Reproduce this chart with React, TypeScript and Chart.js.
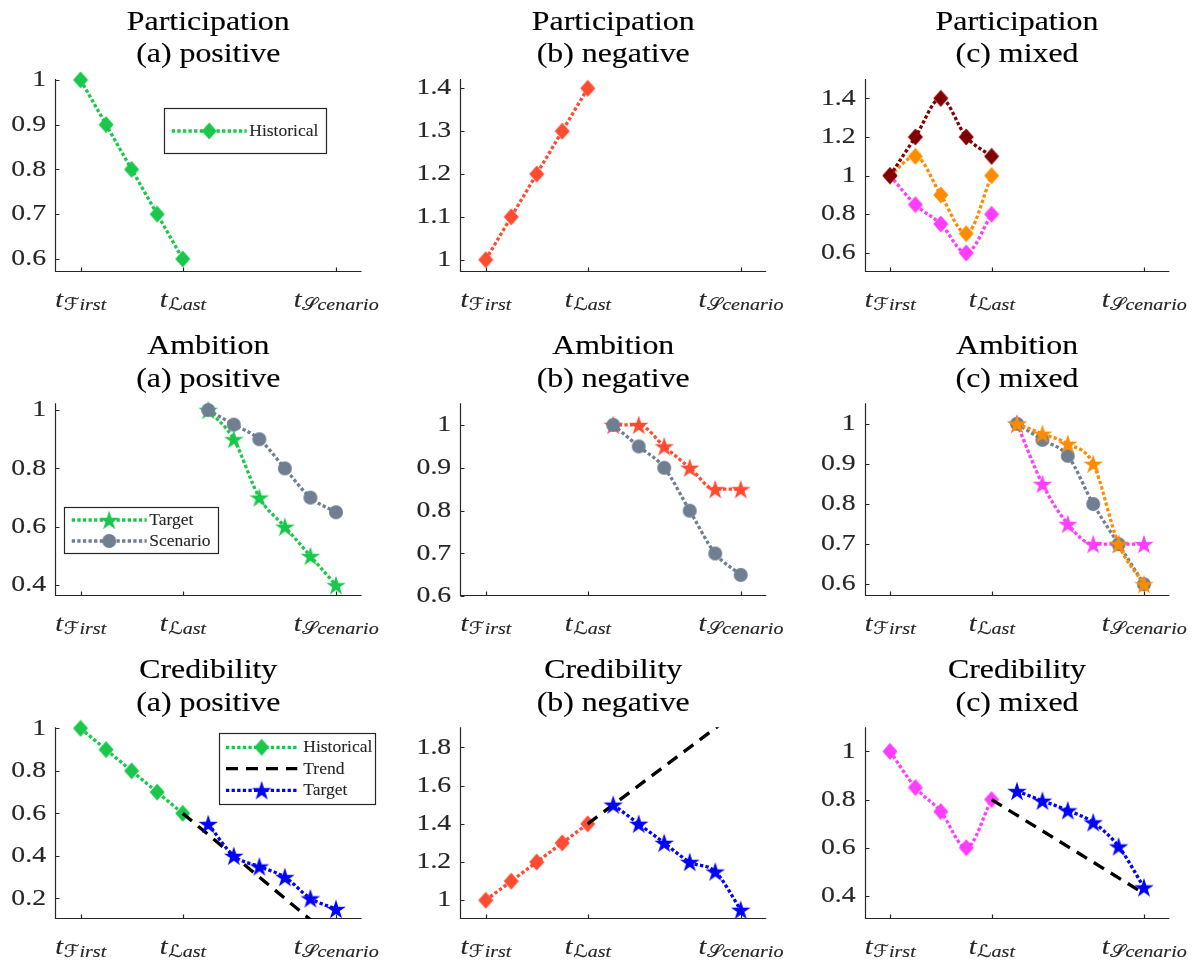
import React, { useEffect, useRef } from 'react';
import { Chart, registerables } from 'chart.js';

Chart.register(...registerables);

// ---------------- data ----------------
const xHistorical = [0, 1, 2, 3, 4];
const xFuture = [5, 6, 7, 8, 9, 10];
const xTrend = [4, 10];
const xTickValues = [0, 4, 10];
const xTickScript = ['ℱ', 'ℒ', '𝒮'];
const xTickRest = ['irst', 'ast', 'cenario'];

const rowTitles = ['Participation', 'Ambition', 'Credibility'];
const colSubtitles = ['(a) positive', '(b) negative', '(c) mixed'];

// Participation
const partPosHistorical = [1, 0.9, 0.8, 0.7, 0.6];
const partNegHistorical = [1, 1.1, 1.2, 1.3, 1.4];
const partMixDarkRed = [1, 1.2, 1.4, 1.2, 1.1];
const partMixOrange = [1, 1.1, 0.9, 0.7, 1.0];
const partMixMagenta = [1, 0.85, 0.75, 0.6, 0.8];

// Ambition
const ambPosTarget = [1, 0.9, 0.7, 0.6, 0.5, 0.4];
const ambPosScenario = [1, 0.95, 0.9, 0.8, 0.7, 0.65];
const ambNegTarget = [1, 1, 0.95, 0.9, 0.85, 0.85];
const ambNegScenario = [1, 0.95, 0.9, 0.8, 0.7, 0.65];
const ambMixOrange = [1, 0.975, 0.95, 0.9, 0.7, 0.6];
const ambMixScenario = [1, 0.96, 0.92, 0.8, 0.7, 0.6];
const ambMixMagenta = [1, 0.85, 0.75, 0.7, 0.7, 0.7];

// Credibility
const credPosHistorical = [1, 0.9, 0.8, 0.7, 0.6];
const credPosTrend = [0.6, 0.0];
const credPosTarget = [0.55, 0.4, 0.35, 0.3, 0.2, 0.15];
const credNegHistorical = [1, 1.1, 1.2, 1.3, 1.4];
const credNegTrend = [1.4, 2.0];
const credNegTarget = [1.5, 1.4, 1.3, 1.2, 1.15, 0.95];
const credMixHistorical = [1, 0.85, 0.75, 0.6, 0.8];
const credMixTrend = [0.8, 0.41];
const credMixTarget = [0.835, 0.795, 0.755, 0.705, 0.605, 0.435];

// y tick labels
const yTicksPartPos = [0.6, 0.7, 0.8, 0.9, 1];
const yTicksPartNeg = [1, 1.1, 1.2, 1.3, 1.4];
const yTicksPartMix = [0.6, 0.8, 1, 1.2, 1.4];
const yTicksAmbPos = [0.4, 0.6, 0.8, 1];
const yTicksAmbNeg = [0.6, 0.7, 0.8, 0.9, 1];
const yTicksAmbMix = [0.6, 0.7, 0.8, 0.9, 1];
const yTicksCredPos = [0.2, 0.4, 0.6, 0.8, 1];
const yTicksCredNeg = [1, 1.2, 1.4, 1.6, 1.8];
const yTicksCredMix = [0.4, 0.6, 0.8, 1];

// y limits
const yRangePartPos = [0.57, 1.002];
const yRangePartNeg = [0.9706, 1.4217];
const yRangePartMix = [0.5, 1.5];
const yRangeAmbPos = [0.362, 1.023];
const yRangeAmbNeg = [0.6, 1.0506];
const yRangeAmbMix = [0.57, 1.051];
const yRangeCredPos = [0.103, 1.005];
const yRangeCredNeg = [0.902, 1.905];
const yRangeCredMix = [0.304, 1.1];

// ---------------- style ----------------
const C = {
  green: 'rgb(25,200,75)',
  red: 'rgb(255,75,50)',
  darkred: '#800000',
  orange: '#ff8c00',
  magenta: 'rgb(255,60,255)',
  grey: 'rgb(111,127,145)',
  blue: '#0000ff',
  black: '#000000',
};
const AX = '#262626';
const SERIF = '"Liberation Serif", "Times New Roman", serif';
const SCRIPTF = '"Liberation Serif", "DejaVu Serif", "DejaVu Sans", serif';
const SX = 1.18;
const LW = 3.3;
const DOT = [3.3, 2.3];
const DASH = [12, 8];
const TEXT_BOLD = 0.15;

type Marker = 'diamond' | 'star' | 'circle' | null;
type Series = { xs: number[]; ys: number[]; color: string; marker: Marker; trend?: boolean; label?: string };
type Legend = { box: [number, number, number, number]; line: [number, number]; textX: number; rows: { y: number; s: number }[] };
type PanelDef = { row: number; col: number; yRange: number[]; yTicks: number[]; series: Series[]; legend?: Legend };

const cellX = [0, 400, 800];
const cellW = [400, 400, 394];
const cellY = [0, 320, 640];
const cellH = 320;
const axesX = [[55, 361.5], [460.2, 766.2], [864.6, 1169.4]];
const axesY = [[79, 272.3], [403.3, 596.3], [727.3, 919]];

const hist = (ys: number[], color: string, label?: string): Series => ({ xs: xHistorical, ys, color, marker: 'diamond', label });
const fut = (ys: number[], color: string, marker: Marker, label?: string): Series => ({ xs: xFuture, ys, color, marker, label });
const trend = (ys: number[]): Series => ({ xs: xTrend, ys, color: C.black, marker: null, trend: true, label: 'Trend' });

const panels: PanelDef[] = [
  {
    row: 0, col: 0, yRange: yRangePartPos, yTicks: yTicksPartPos,
    series: [hist(partPosHistorical, C.green, 'Historical')],
    legend: { box: [164.3, 108.3, 162.4, 45], line: [171.7, 246.7], textX: 249.3, rows: [{ y: 131, s: 0 }] },
  },
  { row: 0, col: 1, yRange: yRangePartNeg, yTicks: yTicksPartNeg, series: [hist(partNegHistorical, C.red)] },
  {
    row: 0, col: 2, yRange: yRangePartMix, yTicks: yTicksPartMix,
    series: [hist(partMixMagenta, C.magenta), hist(partMixOrange, C.orange), hist(partMixDarkRed, C.darkred)],
  },
  {
    row: 1, col: 0, yRange: yRangeAmbPos, yTicks: yTicksAmbPos,
    series: [fut(ambPosTarget, C.green, 'star', 'Target'), fut(ambPosScenario, C.grey, 'circle', 'Scenario')],
    legend: { box: [64.3, 187.3, 154, 46], line: [71.7, 146.7], textX: 149.3, rows: [{ y: 200, s: 0 }, { y: 221, s: 1 }] },
  },
  {
    row: 1, col: 1, yRange: yRangeAmbNeg, yTicks: yTicksAmbNeg,
    series: [fut(ambNegTarget, C.red, 'star'), fut(ambNegScenario, C.grey, 'circle')],
  },
  {
    row: 1, col: 2, yRange: yRangeAmbMix, yTicks: yTicksAmbMix,
    series: [fut(ambMixMagenta, C.magenta, 'star'), fut(ambMixScenario, C.grey, 'circle'), fut(ambMixOrange, C.orange, 'star')],
  },
  {
    row: 2, col: 0, yRange: yRangeCredPos, yTicks: yTicksCredPos,
    series: [hist(credPosHistorical, C.green, 'Historical'), trend(credPosTrend), fut(credPosTarget, C.blue, 'star', 'Target')],
    legend: { box: [219.3, 93.3, 156.4, 70.7], line: [226, 297.3], textX: 303.3, rows: [{ y: 107.3, s: 0 }, { y: 128.6, s: 1 }, { y: 150.3, s: 2 }] },
  },
  {
    row: 2, col: 1, yRange: yRangeCredNeg, yTicks: yTicksCredNeg,
    series: [hist(credNegHistorical, C.red), trend(credNegTrend), fut(credNegTarget, C.blue, 'star')],
  },
  {
    row: 2, col: 2, yRange: yRangeCredMix, yTicks: yTicksCredMix,
    series: [hist(credMixHistorical, C.magenta), trend(credMixTrend), fut(credMixTarget, C.blue, 'star')],
  },
];

// ---------------- markers ----------------
const markerCache = new Map<string, HTMLCanvasElement>();
function getMarker(shape: Marker, color: string): HTMLCanvasElement | null {
  if (!shape) return null;
  const key = shape + color;
  const hit = markerCache.get(key);
  if (hit) return hit;
  const c = document.createElement('canvas');
  let w = 16, h = 16;
  if (shape === 'diamond') { w = 16; h = 18; }
  if (shape === 'star') { w = 22; h = 22; }
  c.width = w; c.height = h;
  const g = c.getContext('2d')!;
  g.fillStyle = color;
  g.beginPath();
  if (shape === 'diamond') {
    g.moveTo(w / 2, 0.5); g.lineTo(w - 0.5, h / 2); g.lineTo(w / 2, h - 0.5); g.lineTo(0.5, h / 2);
  } else if (shape === 'star') {
    const R = 10.3, r = R * 0.382, cx = w / 2, cy = h / 2 + 0.9;
    for (let i = 0; i < 10; i++) {
      const rad = i % 2 === 0 ? R : r;
      const a = -Math.PI / 2 + (i * Math.PI) / 5;
      const px = cx + rad * Math.cos(a), py = cy + rad * Math.sin(a);
      if (i === 0) g.moveTo(px, py); else g.lineTo(px, py);
    }
  } else {
    g.arc(w / 2, h / 2, 7, 0, Math.PI * 2);
  }
  g.closePath();
  g.fill();
  markerCache.set(key, c);
  return c;
}

function drawText(ctx: CanvasRenderingContext2D, text: string, x: number, y: number, font: string, align: CanvasTextAlign, baseline: CanvasTextBaseline, sx: number, color: string, bold = TEXT_BOLD) {
  ctx.save();
  ctx.font = font;
  ctx.fillStyle = color;
  ctx.strokeStyle = color;
  ctx.lineWidth = bold;
  ctx.textAlign = align;
  ctx.textBaseline = baseline;
  ctx.translate(x, y);
  ctx.scale(sx, 1);
  ctx.fillText(text, 0, 0);
  if (bold > 0) ctx.strokeText(text, 0, 0);
  ctx.restore();
}

function strokeSeriesSegment(ctx: CanvasRenderingContext2D, s: Series, x0: number, x1: number, y: number) {
  ctx.save();
  ctx.strokeStyle = s.color;
  ctx.lineWidth = LW;
  ctx.setLineDash(s.trend ? DASH : DOT);
  ctx.beginPath();
  ctx.moveTo(x0, y);
  ctx.lineTo(x1, y);
  ctx.stroke();
  ctx.restore();
  const m = getMarker(s.marker, s.color);
  if (m) ctx.drawImage(m, (x0 + x1) / 2 - m.width / 2, y - m.height / 2);
}

function PanelChart({ p }: { p: PanelDef }) {
  const ref = useRef<HTMLCanvasElement>(null);
  const left = cellX[p.col];
  const top = cellY[p.row];
  const width = cellW[p.col];
  const height = cellH;
  const [aL, aR] = axesX[p.col];
  const [aT, aB] = axesY[p.row];

  useEffect(() => {
    const canvas = ref.current!;
    const n = p.series.length;
    const datasets = p.series.map((s, i) => ({
      label: s.label || '',
      data: s.xs.map((x, j) => ({ x, y: s.ys[j] })),
      borderColor: s.color,
      backgroundColor: s.color,
      borderWidth: LW,
      borderDash: s.trend ? DASH : DOT,
      cubicInterpolationMode: s.trend ? 'default' : 'monotone',
      tension: 0,
      pointStyle: (getMarker(s.marker, s.color) || false) as any,
      pointRadius: s.marker ? 8 : 0,
      pointHoverRadius: s.marker ? 8 : 0,
      clip: s.trend ? 0 : false,
      order: n - i,
      fill: false,
    }));

    const deco = {
      id: 'deco',
      beforeDatasetsDraw(chart: any) {
        const ctx: CanvasRenderingContext2D = chart.ctx;
        const xs = chart.scales.x, ys = chart.scales.y;
        const L = chart.chartArea.left, R = chart.chartArea.right, T = chart.chartArea.top, B = chart.chartArea.bottom;
        const Lp = Math.round(L) + 0.5, Bp = Math.round(B) - 0.5;
        ctx.save();
        ctx.strokeStyle = AX;
        ctx.lineWidth = 1.2;
        ctx.beginPath();
        ctx.moveTo(Lp, T); ctx.lineTo(Lp, Bp); ctx.lineTo(R, Bp);
        for (const v of p.yTicks) {
          const py = Math.round(ys.getPixelForValue(v)) + 0.5;
          ctx.moveTo(Lp, py); ctx.lineTo(Lp + 4, py);
        }
        for (const v of xTickValues) {
          const px = Math.round(xs.getPixelForValue(v)) + 0.5;
          ctx.moveTo(px, Bp); ctx.lineTo(px, Bp - 4);
        }
        ctx.stroke();
        ctx.restore();

        // y tick labels
        for (const v of p.yTicks) {
          drawText(ctx, String(v), L - 9, ys.getPixelForValue(v), `23.5px ${SERIF}`, 'right', 'middle', SX, AX);
        }
        // x tick labels
        xTickValues.forEach((v, i) => {
          const px = xs.getPixelForValue(v);
          const parts = [
            { t: 't', font: `italic 24px ${SERIF}`, dy: 0 },
            { t: xTickScript[i], font: `17px ${SCRIPTF}`, dy: 3 },
            { t: xTickRest[i], font: `italic 17px ${SERIF}`, dy: 3 },
          ];
          let total = 0;
          const widths = parts.map((q) => { ctx.font = q.font; const w = ctx.measureText(q.t).width * SX; total += w; return w; });
          let cx = px - total / 2;
          parts.forEach((q, k) => {
            drawText(ctx, q.t, cx, B + 34.5 + q.dy, q.font, 'left', 'alphabetic', SX, AX);
            cx += widths[k] + (k === 0 ? 0.5 : 0);
          });
        });
        // titles
        const mid = (L + R) / 2;
        drawText(ctx, rowTitles[p.row], mid, T - 49.5, `27px ${SERIF}`, 'center', 'alphabetic', SX, '#000');
        drawText(ctx, colSubtitles[p.col], mid, T - 16.8, `27px ${SERIF}`, 'center', 'alphabetic', SX, '#000');
      },
      afterDraw(chart: any) {
        if (!p.legend) return;
        const ctx: CanvasRenderingContext2D = chart.ctx;
        const lg = p.legend;
        const [bx, by, bw, bh] = lg.box;
        ctx.save();
        ctx.fillStyle = '#ffffff';
        ctx.fillRect(bx, by, bw, bh);
        ctx.strokeStyle = AX;
        ctx.lineWidth = 1.2;
        ctx.strokeRect(Math.round(bx) + 0.5, Math.round(by) + 0.5, Math.round(bw), Math.round(bh));
        ctx.restore();
        for (const r of lg.rows) {
          const s = p.series[r.s];
          strokeSeriesSegment(ctx, s, lg.line[0], lg.line[1], r.y);
          drawText(ctx, s.label || '', lg.textX, r.y + 0.5, `17.5px ${SERIF}`, 'left', 'middle', 1.0, AX, 0.1);
        }
      },
    };

    const chart = new Chart(canvas, {
      type: 'line',
      data: { datasets: datasets as any },
      options: {
        animation: false,
        responsive: false,
        maintainAspectRatio: false,
        events: [],
        layout: { padding: { left: aL - left, right: left + width - aR, top: aT - top, bottom: top + height - aB } },
        scales: {
          x: { type: 'linear', min: -1, max: 11, display: false },
          y: { type: 'linear', min: p.yRange[0], max: p.yRange[1], display: false },
        },
        plugins: { legend: { display: false }, tooltip: { enabled: false }, title: { display: false } },
      },
      plugins: [deco as any],
    });
    return () => chart.destroy();
  }, []);

  return (
    <canvas
      ref={ref}
      width={width}
      height={height}
      style={{ position: 'absolute', left, top, width, height, display: 'block' }}
    />
  );
}

export default function App() {
  useEffect(() => {
    document.body.style.margin = '0';
  }, []);
  return (
    <div style={{ position: 'absolute', left: 0, top: 0, width: 1194, height: 960, background: '#ffffff', overflow: 'hidden' }}>
      {panels.map((p, i) => (
        <PanelChart key={i} p={p} />
      ))}
    </div>
  );
}
